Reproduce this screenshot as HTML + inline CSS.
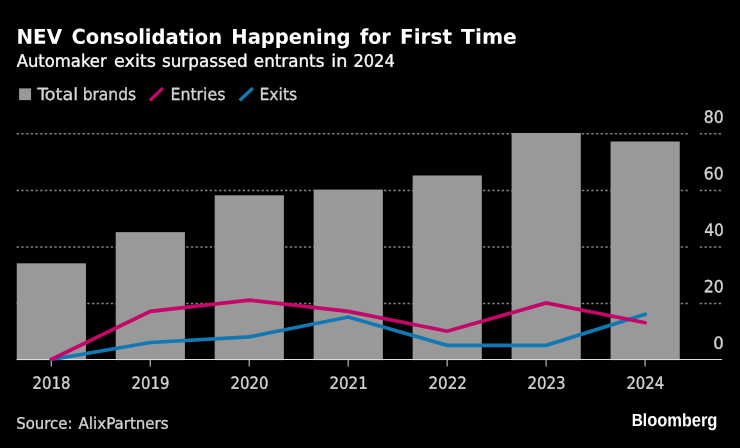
<!DOCTYPE html>
<html lang="en"><head><meta charset="utf-8"><title>NEV Consolidation Happening for First Time</title>
<style>
html,body{margin:0;padding:0;background:#000;}
body{width:740px;height:448px;overflow:hidden;}
svg{display:block;}
text{font-family:"DejaVu Sans","Liberation Sans",sans-serif;}
.t{font-weight:bold;font-size:20.4px;fill:#fff;}
.s{font-size:17.1px;fill:#fff;stroke:#fff;stroke-width:.3px;}
.l,.a,.c{font-family:"DejaVu Sans Condensed","DejaVu Sans","Liberation Sans",sans-serif;font-stretch:condensed;font-size:16.7px;fill:#d4d4d4;stroke:#d4d4d4;stroke-width:.3px;}
.c{font-size:15.8px;}
.b{font-family:"Liberation Sans",sans-serif;font-weight:bold;font-size:16.8px;fill:#fff;}
</style></head><body>
<svg width="740" height="448" viewBox="0 0 740 448">
<rect width="740" height="448" fill="#000"/>
<defs><clipPath id="cp"><rect x="0" y="0" width="740" height="360.4"/></clipPath></defs>
<text class="t" transform="matrix(0.9738 0.001 0 1 16.47 43.80)">NEV</text>
<text class="t" transform="matrix(0.9578 0.001 0 1 71.44 43.80)">Consolidation</text>
<text class="t" transform="matrix(0.9580 0.001 0 1 231.30 43.80)">Happening</text>
<text class="t" transform="matrix(0.9354 0.001 0 1 359.95 43.80)">for</text>
<text class="t" transform="matrix(0.9817 0.001 0 1 400.06 43.80)">First</text>
<text class="t" transform="matrix(0.9945 0.001 0 1 461.10 43.80)">Time</text>
<text class="s" transform="matrix(0.9613 0.001 0 1 16.68 66.70)">Automaker</text>
<text class="s" transform="matrix(1.0333 0.001 0 1 113.90 66.70)">exits</text>
<text class="s" transform="matrix(0.9838 0.001 0 1 161.94 66.70)">surpassed</text>
<text class="s" transform="matrix(0.9805 0.001 0 1 253.84 66.70)">entrants</text>
<text class="s" transform="matrix(1.0320 0.001 0 1 331.32 66.70)">in</text>
<text class="s" transform="matrix(0.9523 0.001 0 1 353.41 66.70)">2024</text>
<rect x="19.1" y="88.35" width="11.95" height="11.75" fill="#999999"/>
<line x1="149.8" y1="100.5" x2="163.0" y2="88.1" stroke="#c40569" stroke-width="3.4"/>
<line x1="239.7" y1="100.5" x2="252.9" y2="88.1" stroke="#1079b4" stroke-width="3.4"/>
<text class="l" transform="matrix(1.1731 0.001 0 1 37.35 100.00)">Total</text>
<text class="l" transform="matrix(1.0322 0.001 0 1 82.63 100.00)">brands</text>
<text class="l" transform="matrix(1.0514 0.001 0 1 170.42 100.00)">Entries</text>
<text class="l" transform="matrix(1.0412 0.001 0 1 259.44 100.00)">Exits</text>
<line x1="16.6" x2="688.4" y1="303.54" y2="303.54" stroke="#808080" stroke-width="1.5" stroke-dasharray="2.4 2.31"/>
<line x1="699.8" x2="721.8" y1="303.54" y2="303.54" stroke="#808080" stroke-width="1.5" stroke-dasharray="2.4 2.31"/>
<line x1="16.6" x2="688.4" y1="246.97" y2="246.97" stroke="#808080" stroke-width="1.5" stroke-dasharray="2.4 2.31"/>
<line x1="699.8" x2="721.8" y1="246.97" y2="246.97" stroke="#808080" stroke-width="1.5" stroke-dasharray="2.4 2.31"/>
<line x1="16.6" x2="688.4" y1="190.41" y2="190.41" stroke="#808080" stroke-width="1.5" stroke-dasharray="2.4 2.31"/>
<line x1="699.8" x2="721.8" y1="190.41" y2="190.41" stroke="#808080" stroke-width="1.5" stroke-dasharray="2.4 2.31"/>
<line x1="16.6" x2="688.4" y1="133.85" y2="133.85" stroke="#808080" stroke-width="1.5" stroke-dasharray="2.4 2.31"/>
<line x1="699.8" x2="721.8" y1="133.85" y2="133.85" stroke="#808080" stroke-width="1.5" stroke-dasharray="2.4 2.31"/>
<rect x="16.75" y="263.30" width="69.20" height="96.80" fill="#999999"/>
<rect x="115.72" y="232.13" width="69.20" height="127.97" fill="#999999"/>
<rect x="214.69" y="195.30" width="69.20" height="164.80" fill="#999999"/>
<rect x="313.66" y="189.63" width="69.20" height="170.47" fill="#999999"/>
<rect x="412.63" y="175.47" width="69.20" height="184.63" fill="#999999"/>
<rect x="511.60" y="132.97" width="69.20" height="227.13" fill="#999999"/>
<rect x="610.57" y="141.47" width="69.20" height="218.63" fill="#999999"/>
<line x1="16.6" x2="722" y1="359.56" y2="359.56" stroke="#dcdcdc" stroke-width="1.05"/>
<line x1="51.25" x2="51.25" y1="359.60" y2="366.60" stroke="#cfcfcf" stroke-width="1.05"/>
<line x1="150.22" x2="150.22" y1="359.60" y2="366.60" stroke="#cfcfcf" stroke-width="1.05"/>
<line x1="249.19" x2="249.19" y1="359.60" y2="366.60" stroke="#cfcfcf" stroke-width="1.05"/>
<line x1="348.16" x2="348.16" y1="359.60" y2="366.60" stroke="#cfcfcf" stroke-width="1.05"/>
<line x1="447.13" x2="447.13" y1="359.60" y2="366.60" stroke="#cfcfcf" stroke-width="1.05"/>
<line x1="546.10" x2="546.10" y1="359.60" y2="366.60" stroke="#cfcfcf" stroke-width="1.05"/>
<line x1="645.07" x2="645.07" y1="359.60" y2="366.60" stroke="#cfcfcf" stroke-width="1.05"/>
<path d="M51.35 359.50 L150.32 342.52 L249.29 336.86 L348.26 317.05 L447.23 345.35 L546.20 345.35 L645.17 314.22" fill="none" stroke="#1079b4" stroke-width="3.7" stroke-linejoin="miter" stroke-linecap="round" clip-path="url(#cp)"/>
<path d="M51.35 359.50 L150.32 311.39 L249.29 300.07 L348.26 311.39 L447.23 331.20 L546.20 302.90 L645.17 322.71" fill="none" stroke="#c40569" stroke-width="3.7" stroke-linejoin="miter" stroke-linecap="round" clip-path="url(#cp)"/>
<text class="c" transform="matrix(1.0484 0.001 0 1 16.28 428.70)">Source:</text>
<text class="c" transform="matrix(1.0611 0.001 0 1 78.57 428.70)">AlixPartners</text>
<text class="a" transform="matrix(1.1030 0.001 0 1 713.24 348.72)">0</text>
<text class="a" transform="matrix(1.0500 0.001 0 1 703.72 292.23)">20</text>
<text class="a" transform="matrix(1.0273 0.001 0 1 704.13 235.74)">40</text>
<text class="a" transform="matrix(1.0423 0.001 0 1 703.86 179.26)">60</text>
<text class="a" transform="matrix(1.0423 0.001 0 1 703.86 122.77)">80</text>
<text class="a" transform="matrix(0.9927 0.001 0 1 32.55 388.72)">2018</text>
<text class="a" transform="matrix(0.9927 0.001 0 1 131.52 388.72)">2019</text>
<text class="a" transform="matrix(0.9927 0.001 0 1 230.49 388.72)">2020</text>
<text class="a" transform="matrix(1.0031 0.001 0 1 329.45 388.72)">2021</text>
<text class="a" transform="matrix(1.0066 0.001 0 1 428.42 388.72)">2022</text>
<text class="a" transform="matrix(0.9996 0.001 0 1 527.40 388.72)">2023</text>
<text class="a" transform="matrix(0.9892 0.001 0 1 626.38 388.72)">2024</text>
<text class="b" transform="matrix(0.8834 0.001 0 1 631.71 426.1)"><tspan font-size="17.5">Bl</tspan><tspan font-size="18.7">oom</tspan><tspan font-size="18.0">b</tspan><tspan font-size="18.7">erg</tspan></text>
</svg></body></html>
